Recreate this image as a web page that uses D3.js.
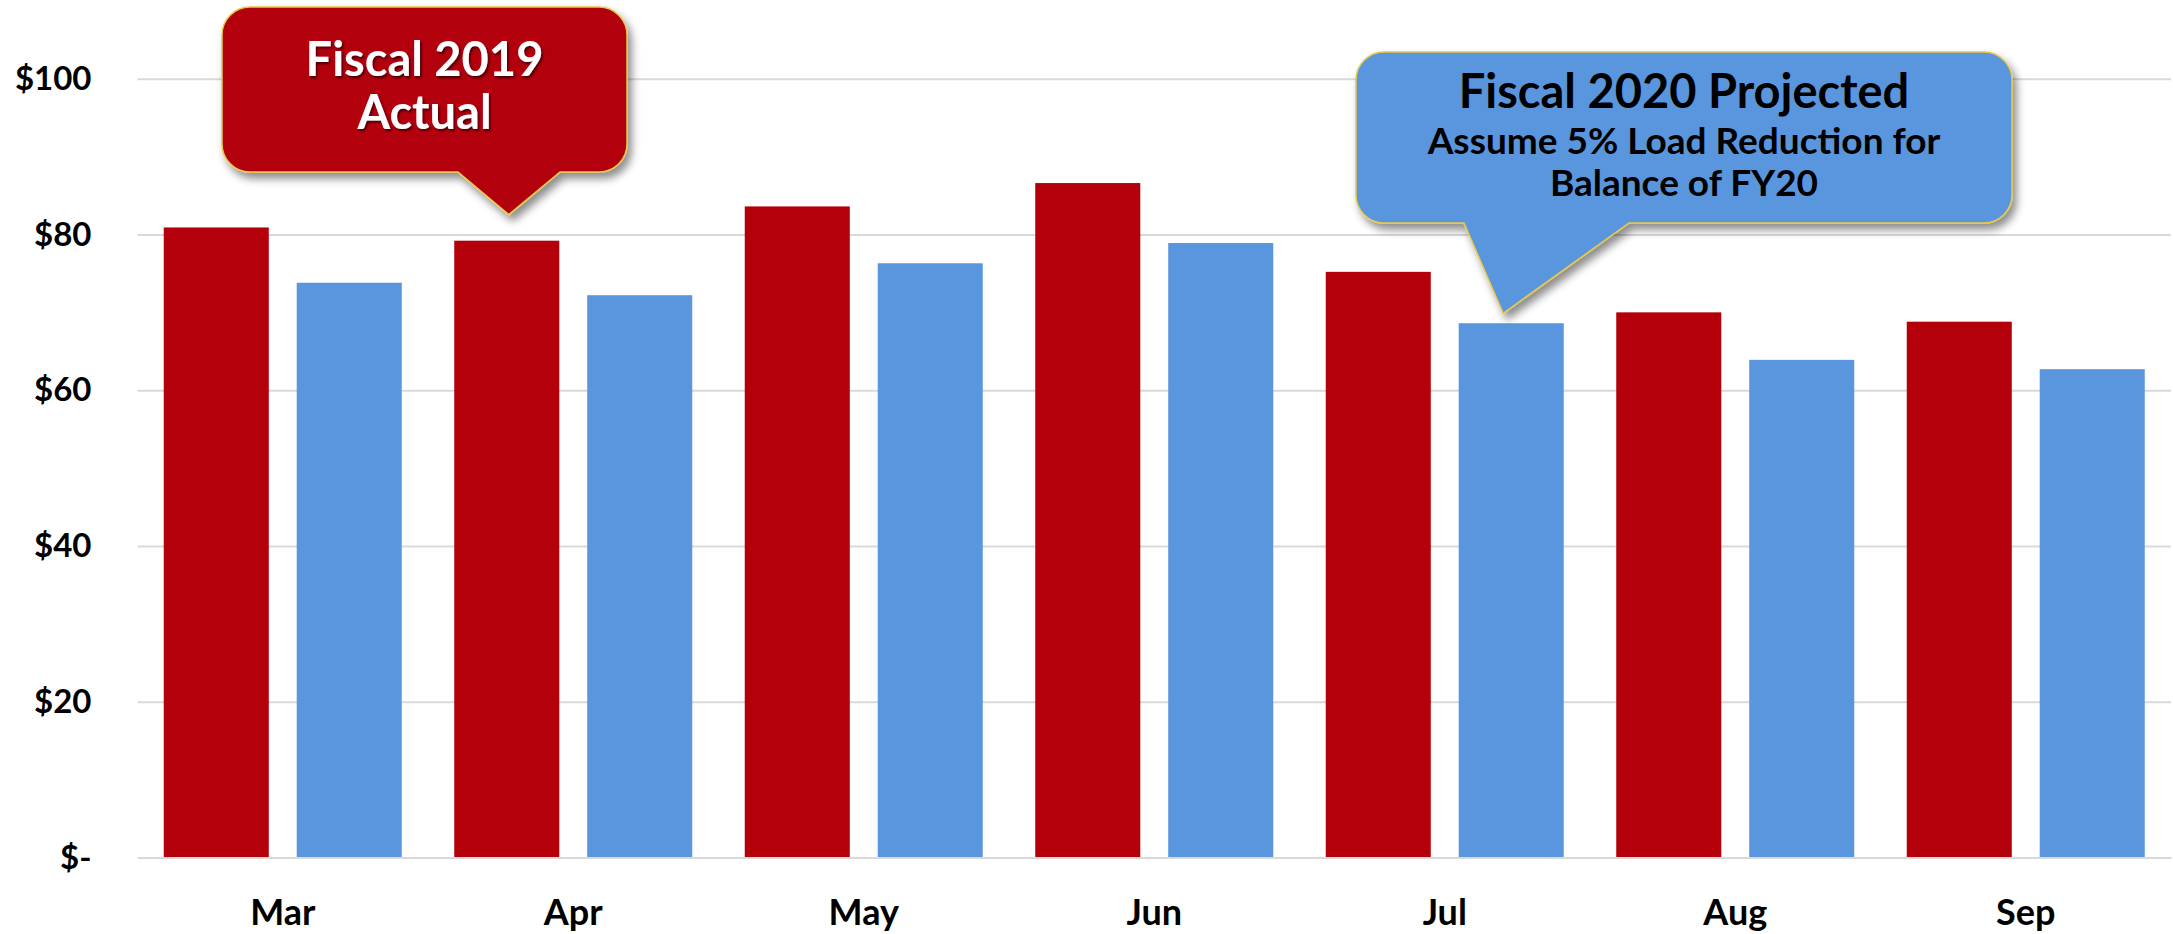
<!DOCTYPE html>
<html>
<head>
<meta charset="utf-8">
<script src="https://cdn.jsdelivr.net/npm/d3@7"></script>
<style>
  html, body { margin: 0; padding: 0; background: #fff; }
  svg { display: block; }
  text { font-family: Lato, "Open Sans", "Liberation Sans", sans-serif; font-weight: 700; }
</style>
</head>
<body>
<svg id="chart" width="2173" height="934"></svg>
<script>
// ---- data ----
const months = ["Mar", "Apr", "May", "Jun", "Jul", "Aug", "Sep"];
const seriesNames = ["Fiscal 2019 Actual", "Fiscal 2020 Projected"];
const fy2019Actual = [80.9, 79.2, 83.6, 86.6, 75.2, 70.0, 68.8];
const fy2020Projected = [73.8, 72.2, 76.3, 78.9, 68.6, 63.9, 62.7];
const yTickValues = [0, 20, 40, 60, 80, 100];
const calloutRedLines = ["Fiscal 2019", "Actual"];
const calloutBlueLines = ["Fiscal 2020 Projected", "Assume 5% Load Reduction for", "Balance of FY20"];

// ---- layout ----
const W = 2173, H = 934;
const plot = { left: 137.5, right: 2171, top: 78.7, bottom: 857.5 };
const colors = { red: "#B3000A", blue: "#5A96DD", grid: "#D9D9D9", outline: "#E6C84A" };

const svg = d3.select("#chart");
const defs = svg.append("defs");
const shadow = defs.append("filter").attr("id", "shadow")
  .attr("x", "-10%").attr("y", "-10%").attr("width", "130%").attr("height", "140%");
shadow.append("feDropShadow").attr("dx", 4).attr("dy", 6).attr("stdDeviation", 4)
  .attr("flood-color", "#000").attr("flood-opacity", 0.45);
const tshadow = defs.append("filter").attr("id", "tshadow")
  .attr("x", "-10%").attr("y", "-20%").attr("width", "130%").attr("height", "150%");
tshadow.append("feDropShadow").attr("dx", 1.5).attr("dy", 2).attr("stdDeviation", 1)
  .attr("flood-color", "#000").attr("flood-opacity", 0.6);

const y = d3.scaleLinear().domain([0, 100]).range([plot.bottom, plot.top]);
const x0 = d3.scaleBand().domain(months).range([plot.left, plot.right])
  .paddingInner(0.1807).paddingOuter(0.09035);
const x1 = d3.scaleBand().domain(seriesNames).range([0, x0.bandwidth()]).paddingInner(0.21);

// gridlines + y axis
const yAxis = d3.axisLeft(y).tickValues(yTickValues)
  .tickSize(-(plot.right - plot.left)).tickPadding(46)
  .tickFormat(d => d === 0 ? "$-" : "$" + d);
const gy = svg.append("g").attr("transform", `translate(${plot.left},0)`).call(yAxis);
gy.select(".domain").remove();
gy.selectAll(".tick line").attr("stroke", colors.grid).attr("stroke-width", 2);
gy.selectAll(".tick text").attr("fill", "#000").style("font-size", "33px");

// bars
const rows = months.map((m, i) => ({ month: m, values: [
  { key: seriesNames[0], value: fy2019Actual[i], color: colors.red },
  { key: seriesNames[1], value: fy2020Projected[i], color: colors.blue }
]}));
const groups = svg.append("g").selectAll("g").data(rows).join("g")
  .attr("transform", d => `translate(${x0(d.month)},0)`);
groups.selectAll("rect").data(d => d.values).join("rect")
  .attr("x", d => x1(d.key)).attr("width", x1.bandwidth())
  .attr("y", d => y(d.value)).attr("height", d => y(0) - y(d.value))
  .attr("fill", d => d.color);

// x axis
const xAxis = d3.axisBottom(x0).tickSize(0).tickPadding(42);
const gx = svg.append("g").attr("transform", `translate(0,${plot.bottom})`).call(xAxis);
gx.select(".domain").attr("stroke", colors.grid).attr("stroke-width", 2);
gx.selectAll(".tick text").attr("fill", "#000").style("font-size", "36px");

// callouts
function calloutPath(b, tip) {
  const p = d3.path(), r = b.r;
  p.moveTo(b.x0 + r, b.y0);
  p.lineTo(b.x1 - r, b.y0);
  p.arcTo(b.x1, b.y0, b.x1, b.y0 + r, r);
  p.lineTo(b.x1, b.y1 - r);
  p.arcTo(b.x1, b.y1, b.x1 - r, b.y1, r);
  p.lineTo(b.bx1, b.y1);
  p.lineTo(tip[0], tip[1]);
  p.lineTo(b.bx0, b.y1);
  p.lineTo(b.x0 + r, b.y1);
  p.arcTo(b.x0, b.y1, b.x0, b.y1 - r, r);
  p.lineTo(b.x0, b.y0 + r);
  p.arcTo(b.x0, b.y0, b.x0 + r, b.y0, r);
  p.closePath();
  return p.toString();
}

// red callout pointing at Apr actual bar
const redBox = { x0: 222, y0: 7, x1: 627, y1: 172, r: 28, bx0: 458, bx1: 560 };
const redTip = [x0("Apr") + x1(seriesNames[0]) + x1.bandwidth() / 2 + 2, y(fy2019Actual[1]) - 26];
svg.append("path").attr("d", calloutPath(redBox, redTip))
  .attr("fill", colors.red).attr("stroke", colors.outline).attr("stroke-width", 1.5)
  .attr("filter", "url(#shadow)");
const redText = svg.append("g").attr("filter", "url(#tshadow)");
redText.selectAll("text").data(calloutRedLines).join("text")
  .attr("x", (redBox.x0 + redBox.x1) / 2).attr("y", (d, i) => 76 + i * 53)
  .attr("text-anchor", "middle").attr("fill", "#fff").style("font-size", "47px").text(d => d);

// blue callout pointing at Jul projected bar
const blueBox = { x0: 1356, y0: 52, x1: 2012, y1: 223, r: 28, bx0: 1464, bx1: 1629 };
const blueTip = [x0("Jul") + x1(seriesNames[1]) + x1.bandwidth() / 2 - 8, y(fy2020Projected[4]) - 10];
svg.append("path").attr("d", calloutPath(blueBox, blueTip))
  .attr("fill", colors.blue).attr("stroke", colors.outline).attr("stroke-width", 1.5)
  .attr("filter", "url(#shadow)");
const bsizes = [47, 37, 37], bbase = [108, 154, 196];
svg.append("g").selectAll("text").data(calloutBlueLines).join("text")
  .attr("x", (blueBox.x0 + blueBox.x1) / 2).attr("y", (d, i) => bbase[i])
  .attr("text-anchor", "middle").attr("fill", "#000")
  .style("font-size", (d, i) => bsizes[i] + "px").text(d => d);
</script>
</body>
</html>
